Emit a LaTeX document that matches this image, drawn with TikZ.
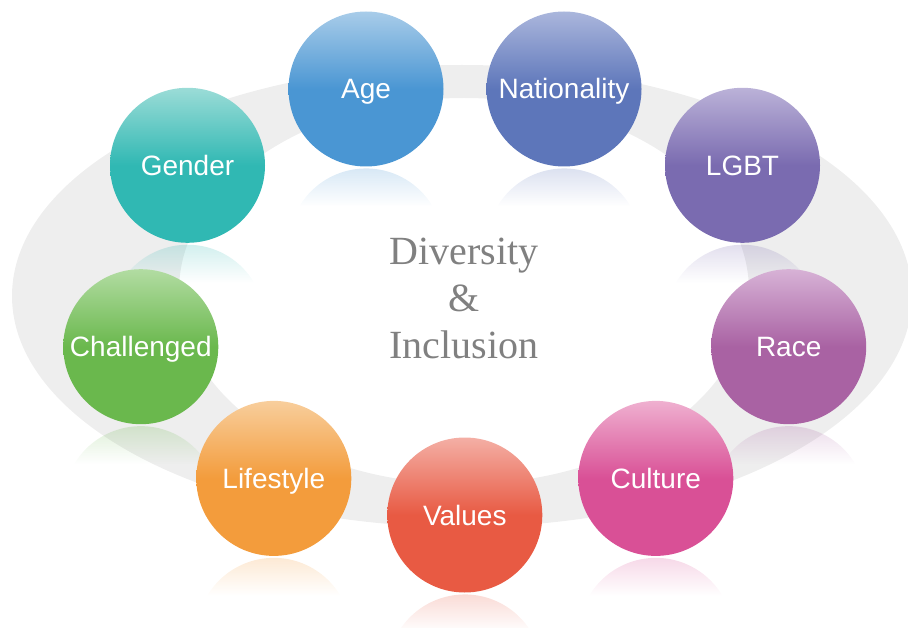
\documentclass[tikz,border=0pt]{standalone}
\usepackage{fontspec}
\setsansfont{Liberation Sans}
\newfontfamily\titlefont{Liberation Serif}
\usetikzlibrary{calc,fadings,backgrounds}

\definecolor{ringgrey}{HTML}{EEEEEE}
\definecolor{titlegrey}{HTML}{808080}
\definecolor{agetop}{HTML}{A8CCE9}    \definecolor{agebot}{HTML}{4A96D3}
\definecolor{nattop}{HTML}{AAB6DC}    \definecolor{natbot}{HTML}{5D76BA}
\definecolor{lgbttop}{HTML}{BBB2D8}   \definecolor{lgbtbot}{HTML}{7A6BB0}
\definecolor{racetop}{HTML}{D7B2D6}   \definecolor{racebot}{HTML}{A962A3}
\definecolor{culttop}{HTML}{EFB0D0}   \definecolor{cultbot}{HTML}{D95096}
\definecolor{valtop}{HTML}{F4AFA5}    \definecolor{valbot}{HTML}{E85A43}
\definecolor{lifetop}{HTML}{F8CE9C}   \definecolor{lifebot}{HTML}{F39C3C}
\definecolor{chaltop}{HTML}{B2DCA2}   \definecolor{chalbot}{HTML}{6AB84D}
\definecolor{gendtop}{HTML}{9BDCD7}   \definecolor{gendbot}{HTML}{30B8B3}

\tikzfading[name=reflfade, top color=transparent!72, bottom color=transparent!100]

\begin{document}
\begin{tikzpicture}[x=1pt, y=1pt,
    ball/.style 2 args={circle, minimum size=155pt, inner sep=0pt, outer sep=0pt,
      top color=#1, bottom color=#2, middle color=#2, text=white,
      font=\sffamily\fontsize{28}{34}\selectfont, text height=20pt, text depth=0pt},
    refl/.style={fill=#1, path fading=reflfade}]
    \useasboundingbox (0,0) rectangle (908,-628);

    \node[ball={agetop}{agebot}] (age) at (366,-89) {Age};
    \node[ball={nattop}{natbot}] (nation) at (564,-89) {Nationality};
    \node[ball={lgbttop}{lgbtbot}] (lgbt) at (742.5,-165.3) {LGBT};
    \node[ball={racetop}{racebot}] (race) at (788.7,-346.7) {Race};
    \node[ball={culttop}{cultbot}] (culture) at (655.8,-478.4) {Culture};
    \node[ball={valtop}{valbot}] (values) at (464.8,-515) {Values};
    \node[ball={lifetop}{lifebot}] (lifestyle) at (273.8,-478.4) {Lifestyle};
    \node[ball={chaltop}{chalbot}] (challenged) at (140.8,-346.7) {Challenged};
    \node[ball={gendtop}{gendbot}] (gender) at (187.5,-165.3) {Gender};

    \node[text=titlegrey, font=\titlefont\fontsize{40}{47}\selectfont, align=center] (title) at (464,-298) {Diversity\\\&\\Inclusion};

    \begin{scope}[on background layer]
        % grey ring
        \fill[ringgrey, even odd rule] (462,-296) ellipse [x radius=450, y radius=231]
            (464,-291) ellipse [x radius=285, y radius=193];
        % reflections
        \fill[refl=agebot] ($(age.south)+(-66.7,-40)$) arc[start angle=149.4, end angle=30.6, radius=77.5] -- cycle;
        \fill[refl=natbot] ($(nation.south)+(-66.7,-40)$) arc[start angle=149.4, end angle=30.6, radius=77.5] -- cycle;
        \fill[refl=lgbtbot] ($(lgbt.south)+(-66.7,-40)$) arc[start angle=149.4, end angle=30.6, radius=77.5] -- cycle;
        \fill[refl=racebot] ($(race.south)+(-66.7,-40)$) arc[start angle=149.4, end angle=30.6, radius=77.5] -- cycle;
        \fill[refl=cultbot] ($(culture.south)+(-66.7,-40)$) arc[start angle=149.4, end angle=30.6, radius=77.5] -- cycle;
        \fill[refl=valbot] ($(values.south)+(-66.7,-40)$) arc[start angle=149.4, end angle=30.6, radius=77.5] -- cycle;
        \fill[refl=lifebot] ($(lifestyle.south)+(-66.7,-40)$) arc[start angle=149.4, end angle=30.6, radius=77.5] -- cycle;
        \fill[refl=chalbot] ($(challenged.south)+(-66.7,-40)$) arc[start angle=149.4, end angle=30.6, radius=77.5] -- cycle;
        \fill[refl=gendbot] ($(gender.south)+(-66.7,-40)$) arc[start angle=149.4, end angle=30.6, radius=77.5] -- cycle;
    \end{scope}
\end{tikzpicture}
\end{document}
